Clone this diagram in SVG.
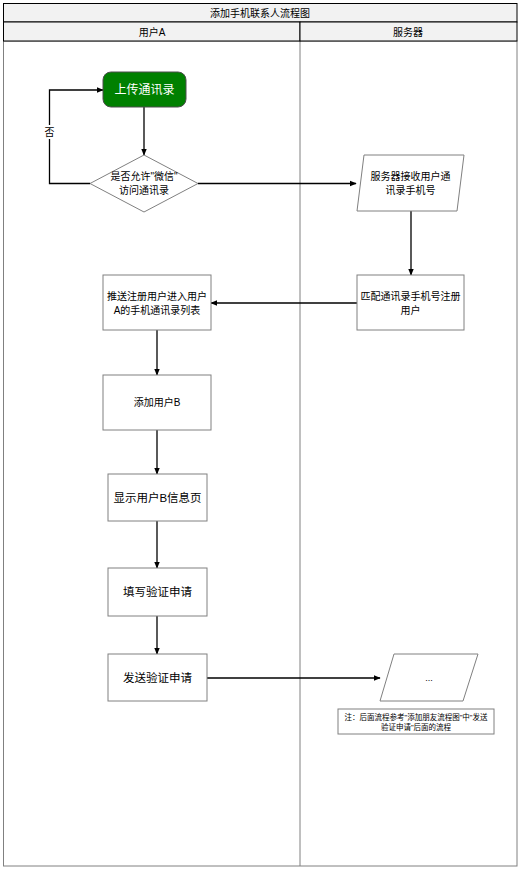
<svg xmlns="http://www.w3.org/2000/svg" width="527" height="872" viewBox="0 0 527 872">
<style>
text{font-family:"Liberation Sans","Noto Sans CJK SC",sans-serif;fill:#000;text-anchor:middle}
.node{fill:#fff;stroke:#808080;stroke-width:1}
.hdr{fill:#f2f2f2;stroke:#000;stroke-width:1}
.lane{fill:none;stroke:#808080;stroke-width:1}
.ln{fill:none;stroke:#000;stroke-width:1.3}
.t{font-size:10.5px}
</style>
<defs>
<marker id="ah" viewBox="0 0 10 10" refX="9" refY="5" markerWidth="7" markerHeight="7" orient="auto" markerUnits="userSpaceOnUse">
<path d="M0,1 L10,5 L0,9 Z" fill="#000"/>
</marker>
</defs>
<g id="pool">
<rect x="3.5" y="41" width="513.5" height="825" class="lane"/>
<line x1="300" y1="41" x2="300" y2="866" class="lane"/>
<rect x="3.5" y="3.5" width="513.5" height="18.5" class="hdr"/>
<rect x="3.5" y="22" width="296.5" height="19" class="hdr"/>
<rect x="300" y="22" width="217" height="19" class="hdr"/>
<text x="260" y="16.5" style="font-size:10px">添加手机联系人流程图</text>
<text x="152" y="35.5" style="font-size:10px">用户A</text>
<text x="408" y="35.5" style="font-size:10px">服务器</text>
</g>
<g id="connectors">
<line x1="144" y1="107" x2="144" y2="155" class="ln" marker-end="url(#ah)"/>
<polyline points="90,183.5 49.5,183.5 49.5,90 103,90" class="ln" marker-end="url(#ah)"/>
<rect x="43" y="125" width="13" height="14" fill="#fff"/>
<text x="49.5" y="136" style="font-size:10px">否</text>
<line x1="198" y1="183.5" x2="356" y2="183.5" class="ln" marker-end="url(#ah)"/>
<line x1="411" y1="211" x2="411" y2="275" class="ln" marker-end="url(#ah)"/>
<line x1="357" y1="303" x2="211" y2="303" class="ln" marker-end="url(#ah)"/>
<line x1="157" y1="330" x2="157" y2="375" class="ln" marker-end="url(#ah)"/>
<line x1="157" y1="430" x2="157" y2="474" class="ln" marker-end="url(#ah)"/>
<line x1="157" y1="521" x2="157" y2="568" class="ln" marker-end="url(#ah)"/>
<line x1="157" y1="616" x2="157" y2="654" class="ln" marker-end="url(#ah)"/>
<line x1="207" y1="678" x2="380" y2="678" class="ln" marker-end="url(#ah)"/>
</g>
<g id="n_upload">
<rect x="103" y="72" width="83" height="35" rx="8" fill="#008000" stroke="#4d4d4d"/>
<text x="144.5" y="94" style="font-size:12px;fill:#fff">上传通讯录</text>
</g>
<g id="n_allow">
<polygon points="144,155 198,183.5 144,212 90,183.5" class="node" stroke="#a0a0a0"/>
<text x="144" y="180" style="font-size:10px">是否允许"微信"</text>
<text x="144" y="194" style="font-size:10px">访问通讯录</text>
</g>
<g id="n_receive">
<polygon points="364,155 464,155 457,211 357,211" class="node"/>
<text x="410.5" y="180" style="font-size:10px">服务器接收用户通</text>
<text x="410.5" y="194" style="font-size:10px">讯录手机号</text>
</g>
<g id="n_match">
<rect x="357" y="275" width="107" height="55" class="node"/>
<text x="410.5" y="300" style="font-size:10px">匹配通讯录手机号注册</text>
<text x="410.5" y="314" style="font-size:10px">用户</text>
</g>
<g id="n_push">
<rect x="103" y="275" width="108" height="55" class="node"/>
<text x="157" y="300" style="font-size:10px">推送注册用户进入用户</text>
<text x="157" y="314" style="font-size:10px">A的手机通讯录列表</text>
</g>
<g id="n_addB">
<rect x="103" y="375" width="108" height="55" class="node"/>
<text x="157" y="406" style="font-size:10px">添加用户B</text>
</g>
<g id="n_show">
<rect x="108" y="474" width="99" height="47" class="node"/>
<text x="157.5" y="502" style="font-size:11.5px">显示用户B信息页</text>
</g>
<g id="n_fill">
<rect x="108" y="568" width="99" height="48" class="node"/>
<text x="157.5" y="596" style="font-size:11.5px">填写验证申请</text>
</g>
<g id="n_send">
<rect x="108" y="654" width="99" height="47" class="node"/>
<text x="157.5" y="682" style="font-size:11.5px">发送验证申请</text>
</g>
<g id="n_more">
<polygon points="394,654 478,654 463,701 380,701" class="node"/>
<text x="429" y="681" style="font-size:9px">...</text>
</g>
<g id="n_note">
<rect x="338" y="709" width="156" height="25" class="node"/>
<text x="416" y="720" style="font-size:7.5px">注：后面流程参考"添加朋友流程图"中"发送</text>
<text x="416" y="730" style="font-size:7.5px">验证申请"后面的流程</text>
</g>
</svg>
